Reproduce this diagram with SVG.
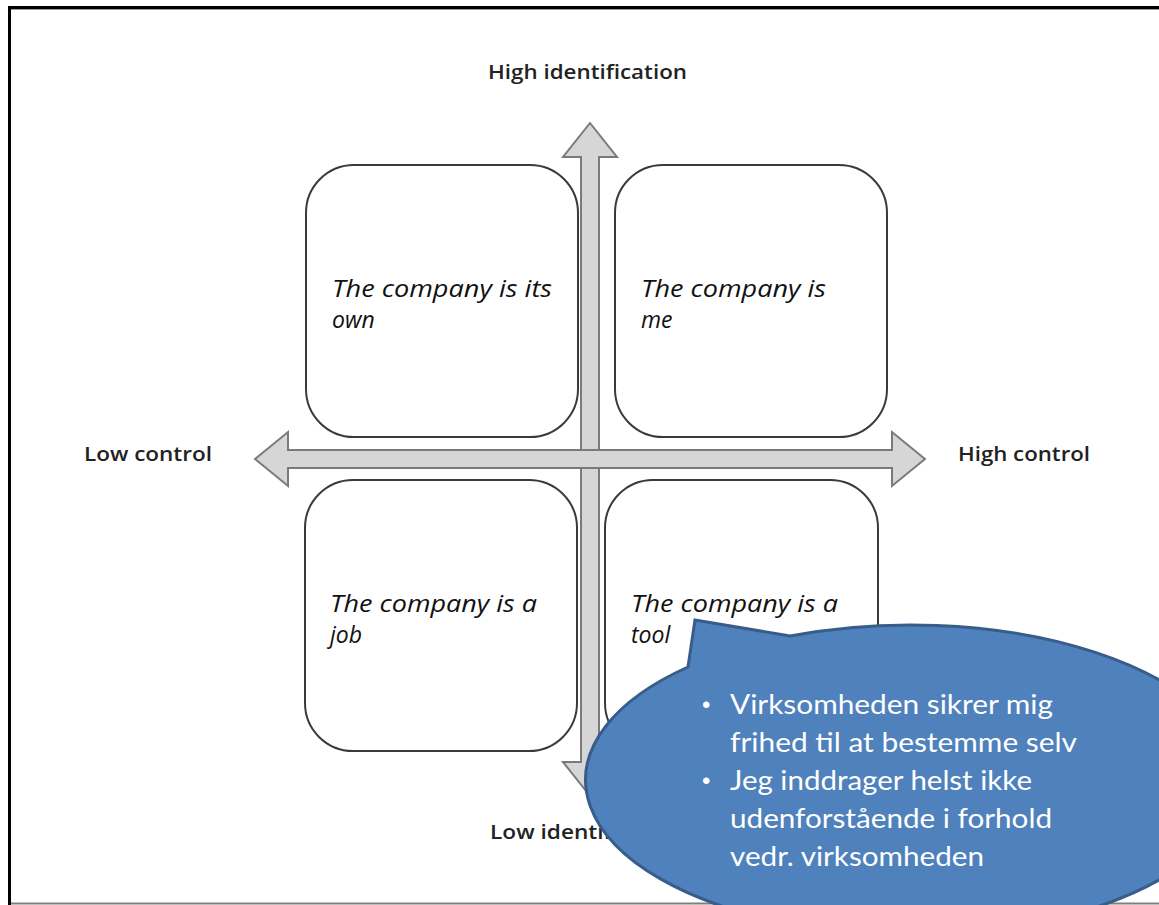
<svg xmlns="http://www.w3.org/2000/svg" width="1159" height="905" viewBox="0 0 1159 905">
<style>
.box{fill:#ffffff;stroke:#3a3a3a;stroke-width:2}
.arrow{fill:#d6d6d6;stroke:#7a7a7a;stroke-width:2;stroke-linejoin:miter}
.q{font-family:"Open Sans",Lato,"Liberation Sans",sans-serif;font-style:italic;font-size:23px;fill:#111}
.lbl{font-family:"Open Sans",Lato,"Liberation Sans",sans-serif;font-weight:600;font-size:19px;fill:#222}
.ct{font-family:Lato,"Open Sans","Liberation Sans",sans-serif;font-size:27px;fill:#ffffff}
.bul{font-family:"Liberation Sans",sans-serif;font-size:24px;fill:#ffffff}
</style>
<rect x="0" y="0" width="1159" height="905" fill="#ffffff"/>
<g id="frame">
<line x1="8" y1="7.5" x2="1159" y2="7.5" stroke="#000" stroke-width="3"/>
<line x1="8" y1="9.5" x2="1159" y2="9.5" stroke="#9a9a9a" stroke-width="1"/>
<line x1="9.5" y1="6" x2="9.5" y2="905" stroke="#000" stroke-width="3"/>
<line x1="11" y1="903.5" x2="1159" y2="903.5" stroke="#7f7f7f" stroke-width="2"/>
</g>
<g id="connectors">
<polygon class="arrow" points="590,123 617,157 599,157 599,762 617,762 590,796 563,762 581,762 581,157 563,157"/>
<polygon class="arrow" points="255,459 288,432 288,450 892,450 892,432 925,459 892,486 892,468 288,468 288,486"/>
</g>
<g id="node-own">
<rect class="box" x="306" y="165" width="272" height="272" rx="48"/>
<text class="q" x="332" y="297" textLength="220" lengthAdjust="spacingAndGlyphs">The company is its</text>
<text class="q" x="332" y="328">own</text>
</g>
<g id="node-me">
<rect class="box" x="615" y="165" width="272" height="272" rx="48"/>
<text class="q" x="641" y="297" textLength="185" lengthAdjust="spacingAndGlyphs">The company is</text>
<text class="q" x="641" y="328">me</text>
</g>
<g id="node-job">
<rect class="box" x="305" y="480" width="272" height="271" rx="48"/>
<text class="q" x="330" y="612" textLength="207" lengthAdjust="spacingAndGlyphs">The company is a</text>
<text class="q" x="330" y="643">job</text>
</g>
<g id="node-tool">
<rect class="box" x="605" y="480" width="273" height="271" rx="48"/>
<text class="q" x="631" y="612" textLength="207" lengthAdjust="spacingAndGlyphs">The company is a</text>
<text class="q" x="631" y="643">tool</text>
</g>
<g id="labels">
<text class="lbl" x="488" y="79" textLength="199" lengthAdjust="spacingAndGlyphs">High identification</text>
<text class="lbl" x="84" y="461" textLength="128" lengthAdjust="spacingAndGlyphs">Low control</text>
<text class="lbl" x="958" y="461" textLength="132" lengthAdjust="spacingAndGlyphs">High control</text>
<text class="lbl" x="490" y="839" textLength="196" lengthAdjust="spacingAndGlyphs">Low identification</text>
</g>
<g id="callout">
<path d="M 688,667 L 695,620 L 790,636 A 325 155 0 1 1 688,667 Z" fill="#4f81bd" stroke="#385d8a" stroke-width="3"/>
<text class="bul" x="702" y="713">•</text>
<text class="ct" x="730" y="714" textLength="323" lengthAdjust="spacingAndGlyphs">Virksomheden sikrer mig</text>
<text class="ct" x="730" y="752" textLength="347" lengthAdjust="spacingAndGlyphs">frihed til at bestemme selv</text>
<text class="bul" x="702" y="789">•</text>
<text class="ct" x="730" y="790" textLength="302" lengthAdjust="spacingAndGlyphs">Jeg inddrager helst ikke</text>
<text class="ct" x="730" y="828" textLength="322" lengthAdjust="spacingAndGlyphs">udenforstående i forhold</text>
<text class="ct" x="730" y="866" textLength="254" lengthAdjust="spacingAndGlyphs">vedr. virksomheden</text>
</g>
</svg>
